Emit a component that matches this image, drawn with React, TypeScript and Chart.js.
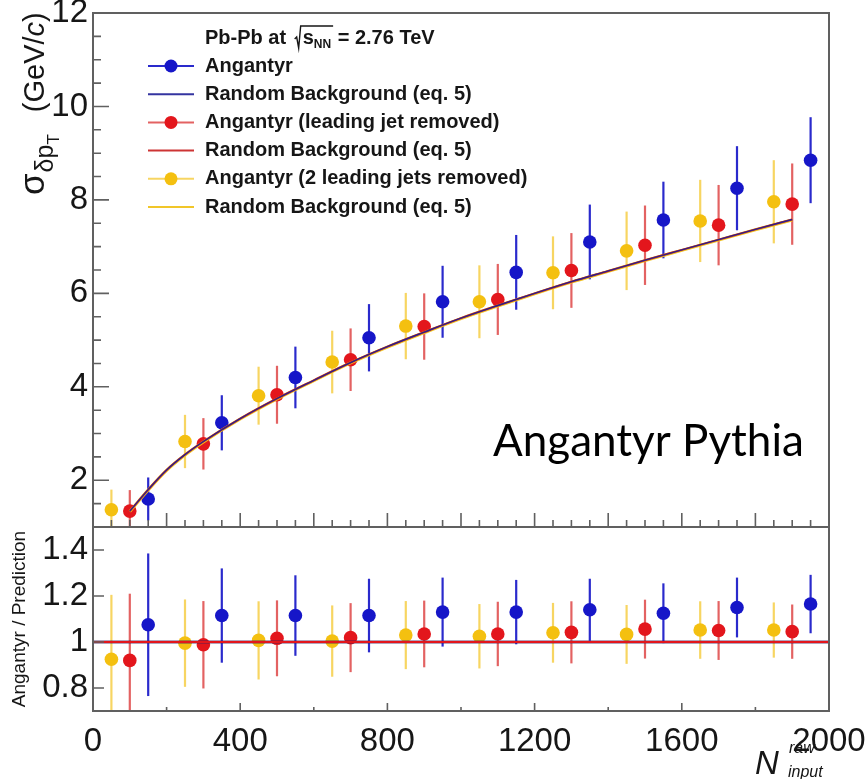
import React, { useEffect, useRef } from 'react';
import { Chart, registerables } from 'chart.js';

Chart.register(...registerables);

// ---------------- data ----------------
const xYellow = [50, 250, 450, 650, 850, 1050, 1250, 1450, 1650, 1850];
const xRed = [100, 300, 500, 700, 900, 1100, 1300, 1500, 1700, 1900];
const xBlue = [150, 350, 550, 750, 950, 1150, 1350, 1550, 1750, 1950];

// upper panel: sigma(delta pT) in GeV/c
const sigmaBlue = [1.6, 3.23, 4.2, 5.05, 5.82, 6.45, 7.1, 7.57, 8.25, 8.85];
const sigmaBlueErr = [0.46, 0.59, 0.66, 0.72, 0.77, 0.8, 0.8, 0.82, 0.9, 0.92];
const sigmaRed = [1.34, 2.78, 3.83, 4.58, 5.29, 5.87, 6.49, 7.03, 7.46, 7.91];
const sigmaRedErr = [0.45, 0.55, 0.62, 0.67, 0.71, 0.76, 0.8, 0.85, 0.86, 0.87];
const sigmaYellow = [1.37, 2.83, 3.81, 4.53, 5.3, 5.82, 6.44, 6.91, 7.55, 7.96];
const sigmaYellowErr = [0.43, 0.57, 0.62, 0.67, 0.71, 0.78, 0.78, 0.84, 0.88, 0.89];

// random background prediction (eq. 5) curves
const bgX = [100, 150, 200, 250, 300, 400, 500, 600, 700, 800, 900, 1000, 1100, 1200, 1300, 1400, 1500, 1600, 1700, 1800, 1900];
const bgBlue = [1.34, 1.8, 2.22, 2.55, 2.83, 3.32, 3.75, 4.14, 4.52, 4.86, 5.17, 5.47, 5.74, 6.0, 6.25, 6.48, 6.71, 6.93, 7.15, 7.37, 7.58];
const bgRed = [1.34, 1.8, 2.22, 2.55, 2.83, 3.32, 3.75, 4.14, 4.52, 4.86, 5.17, 5.47, 5.74, 6.0, 6.25, 6.48, 6.71, 6.93, 7.15, 7.37, 7.58];
const bgYellow = [1.33, 1.79, 2.21, 2.54, 2.82, 3.31, 3.74, 4.13, 4.51, 4.85, 5.16, 5.46, 5.73, 5.99, 6.24, 6.47, 6.7, 6.92, 7.14, 7.36, 7.57];

// lower panel: Angantyr / Prediction
const ratioBlue = [1.075, 1.115, 1.115, 1.115, 1.13, 1.13, 1.14, 1.125, 1.15, 1.165];
const ratioBlueErr = [0.31, 0.205, 0.175, 0.16, 0.15, 0.14, 0.135, 0.13, 0.13, 0.127];
const ratioRed = [0.92, 0.988, 1.016, 1.019, 1.035, 1.035, 1.042, 1.056, 1.05, 1.045];
const ratioRedErr = [0.29, 0.19, 0.165, 0.15, 0.145, 0.14, 0.135, 0.128, 0.128, 0.118];
const ratioYellow = [0.925, 0.995, 1.007, 1.004, 1.03, 1.025, 1.04, 1.033, 1.052, 1.052];
const ratioYellowErr = [0.28, 0.19, 0.17, 0.155, 0.148, 0.14, 0.13, 0.128, 0.125, 0.12];
const unityX = [0, 2000];
const unityY = [1, 1];

// axes / ticks
const topYTicks = [2, 4, 6, 8, 10, 12];
const botYTicks = [0.8, 1.0, 1.2, 1.4];
const xTickLabels = [0, 400, 800, 1200, 1600, 2000];

const labels = {
  header: 'Pb-Pb at',
  energy: '= 2.76 TeV',
  blue: 'Angantyr',
  red: 'Angantyr (leading jet removed)',
  yellow: 'Angantyr (2 leading jets removed)',
  bg: 'Random Background (eq. 5)',
  note: 'Angantyr Pythia',
};

// ---------------- styles ----------------
const FONT = '"Liberation Sans", Arial, Helvetica, sans-serif';
const BLUE = '#1616c8';
const RED = '#e3161c';
const YELLOW = '#f4c010';
const BLUE_ERR = '#2a2acc';
const RED_ERR = 'rgba(222,70,70,0.85)';
const YELLOW_ERR = 'rgba(246,206,70,0.85)';
const FRAME = '#606060';
const TEXT = '#161616';
const LEG = 20;

const pts = (xs: number[], ys: number[]) => xs.map((x, i) => ({ x, y: ys[i] }));
const noPad = () => ({ left: 0, top: 0, right: 0, bottom: 0 });

const errorBarPlugin = {
  id: 'errorBars',
  beforeDatasetDraw(chart: any, args: any) {
    const ds: any = chart.data.datasets[args.index];
    if (!ds.errors) return;
    const xs = chart.scales[args.meta.xAxisID];
    const ys = chart.scales[args.meta.yAxisID];
    const a = chart.chartArea;
    const ctx = chart.ctx;
    ctx.save();
    ctx.beginPath();
    ctx.rect(a.left, a.top, a.right - a.left, a.bottom - a.top);
    ctx.clip();
    ctx.strokeStyle = ds.errorColor;
    ctx.lineWidth = ds.errorWidth || 2;
    ds.data.forEach((p: any, i: number) => {
      const px = xs.getPixelForValue(p.x);
      const y1 = ys.getPixelForValue(p.y - ds.errors[i]);
      const y2 = ys.getPixelForValue(p.y + ds.errors[i]);
      ctx.beginPath();
      ctx.moveTo(px, y1);
      ctx.lineTo(px, y2);
      ctx.stroke();
    });
    ctx.restore();
  },
};

function frameAndTicks(chart: any, cfg: { yMajor: number[]; yMinor: number[]; yMajLen: number; yMinLen: number; xMajor: number[]; xMinor: number[]; xMajLen: number; xMinLen: number }) {
  const ctx = chart.ctx;
  const a = chart.chartArea;
  const xs = chart.scales.x;
  const ys = chart.scales.y;
  ctx.save();
  ctx.strokeStyle = FRAME;
  ctx.lineWidth = 1.6;
  ctx.beginPath();
  cfg.yMajor.forEach((v) => { const y = ys.getPixelForValue(v); ctx.moveTo(a.left, y); ctx.lineTo(a.left + cfg.yMajLen, y); });
  cfg.yMinor.forEach((v) => { const y = ys.getPixelForValue(v); ctx.moveTo(a.left, y); ctx.lineTo(a.left + cfg.yMinLen, y); });
  cfg.xMajor.forEach((v) => { const x = xs.getPixelForValue(v); ctx.moveTo(x, a.bottom); ctx.lineTo(x, a.bottom - cfg.xMajLen); });
  cfg.xMinor.forEach((v) => { const x = xs.getPixelForValue(v); ctx.moveTo(x, a.bottom); ctx.lineTo(x, a.bottom - cfg.xMinLen); });
  ctx.stroke();
  ctx.lineWidth = 2;
  ctx.strokeRect(a.left, a.top, a.right - a.left, a.bottom - a.top);
  ctx.restore();
}

const range = (from: number, to: number, step: number) => {
  const out: number[] = [];
  for (let v = from; v <= to + 1e-9; v += step) out.push(Math.round(v * 1000) / 1000);
  return out;
};

const topDecor = {
  id: 'topDecor',
  afterDraw(chart: any) {
    frameAndTicks(chart, {
      yMajor: topYTicks,
      yMinor: range(1, 12, 0.5).filter((v) => !topYTicks.includes(v)),
      yMajLen: 16,
      yMinLen: 8,
      xMajor: range(0, 2000, 200),
      xMinor: range(0, 2000, 50).filter((v) => v % 200 !== 0),
      xMajLen: 14,
      xMinLen: 7,
    });
    const ctx = chart.ctx;
    ctx.save();
    ctx.fillStyle = TEXT;
    ctx.textBaseline = 'middle';
    ctx.textAlign = 'left';
    // legend header with radical
    const tx = 205;
    let hx = tx;
    const hy = 38;
    ctx.font = `bold ${LEG}px ${FONT}`;
    ctx.fillText(labels.header, hx, hy);
    hx += ctx.measureText(labels.header + ' ').width + 3;
    const sW = ctx.measureText('s').width;
    ctx.font = `bold 12px ${FONT}`;
    const nnW = ctx.measureText('NN').width;
    ctx.strokeStyle = TEXT;
    ctx.lineWidth = 1.4;
    ctx.beginPath();
    ctx.moveTo(hx, hy + 1);
    ctx.lineTo(hx + 2, hy - 1);
    ctx.lineTo(hx + 4, hy + 10);
    ctx.lineTo(hx + 6, hy - 12);
    ctx.lineTo(hx + 8 + sW + nnW + 2, hy - 12);
    ctx.stroke();
    ctx.font = `bold ${LEG}px ${FONT}`;
    ctx.fillText('s', hx + 8, hy);
    ctx.font = `bold 12px ${FONT}`;
    ctx.fillText('NN', hx + 8 + sW, hy + 7);
    ctx.font = `bold ${LEG}px ${FONT}`;
    ctx.fillText(' ' + labels.energy, hx + 8 + sW + nnW + 1, hy);

    // legend entries
    chart.data.datasets.forEach((ds: any, i: number) => {
      const y = 66 + 28.2 * i;
      ctx.lineWidth = 2;
      if (ds.errors) {
        ctx.strokeStyle = ds.errorColor;
        ctx.beginPath(); ctx.moveTo(148, y); ctx.lineTo(194, y); ctx.stroke();
        ctx.fillStyle = ds.backgroundColor;
        ctx.beginPath(); ctx.arc(171, y, 6.5, 0, Math.PI * 2); ctx.fill();
      } else {
        ctx.strokeStyle = ds.borderColor;
        ctx.beginPath(); ctx.moveTo(148, y); ctx.lineTo(194, y); ctx.stroke();
      }
      ctx.fillStyle = TEXT;
      ctx.font = `bold ${LEG}px ${FONT}`;
      ctx.fillText(ds.label, tx, y);
    });

    // annotation
    ctx.textBaseline = 'alphabetic';
    ctx.fillStyle = '#000';
    ctx.font = '44px Lato, "Open Sans", sans-serif';
    ctx.fillText(labels.note, 493, 456);

    // y title: sigma_{delta p_T} (GeV/c)
    ctx.translate(44, 195);
    ctx.rotate(-Math.PI / 2);
    ctx.fillStyle = TEXT;
    let x = 0;
    ctx.font = `35px ${FONT}`;
    ctx.fillText('σ', x, 0); x += ctx.measureText('σ').width + 1;
    ctx.font = `25px ${FONT}`;
    ctx.fillText('δp', x, 9); x += ctx.measureText('δp').width;
    ctx.font = `17px ${FONT}`;
    ctx.fillText('T', x, 15); x += ctx.measureText('T').width + 22;
    ctx.font = `29px ${FONT}`;
    ctx.fillText('(GeV/', x, 0); x += ctx.measureText('(GeV/').width;
    ctx.font = `italic 29px ${FONT}`;
    ctx.fillText('c', x, 0); x += ctx.measureText('c').width;
    ctx.font = `29px ${FONT}`;
    ctx.fillText(')', x, 0);
    ctx.restore();
  },
};

const botDecor = {
  id: 'botDecor',
  afterDraw(chart: any) {
    frameAndTicks(chart, {
      yMajor: botYTicks,
      yMinor: [],
      yMajLen: 11,
      yMinLen: 5,
      xMajor: xTickLabels,
      xMinor: range(200, 1800, 400),
      xMajLen: 8,
      xMinLen: 4,
    });
    const ctx = chart.ctx;
    const a = chart.chartArea;
    ctx.save();
    ctx.fillStyle = TEXT;
    ctx.textAlign = 'center';
    ctx.textBaseline = 'alphabetic';
    ctx.translate(25, (a.top + a.bottom) / 2);
    ctx.rotate(-Math.PI / 2);
    ctx.font = `19px ${FONT}`;
    ctx.fillText('Angantyr / Prediction', 0, 0);
    ctx.restore();
    ctx.save();
    ctx.fillStyle = TEXT;
    ctx.textAlign = 'left';
    ctx.textBaseline = 'alphabetic';
    ctx.font = `italic 33px ${FONT}`;
    ctx.fillText('N', 755, 247);
    ctx.font = `italic 16px ${FONT}`;
    ctx.fillText('raw', 789, 226);
    ctx.fillText('input', 788, 250);
    ctx.restore();
  },
};

const tickFont = { family: FONT, size: 33, lineHeight: 1 };

function yAxis(min: number, max: number, ticks: number[]) {
  return {
    type: 'linear' as const,
    min,
    max,
    grid: { display: false, drawTicks: false },
    border: { display: false },
    ticks: {
      font: tickFont,
      color: TEXT,
      padding: 5,
      autoSkip: false,
      callback: (v: any) => String(Number(Number(v).toFixed(2))),
    },
    afterBuildTicks(s: any) { s.ticks = ticks.map((value) => ({ value })); },
    afterFit(s: any) {
      s.width = 93;
      s.paddingTop = 0; s.paddingBottom = 0; s.paddingLeft = 0; s.paddingRight = 0;
      s.getPadding = noPad;
    },
  };
}

function markerSet(label: string, xs: number[], ys: number[], errs: number[], color: string, errColor: string, order: number) {
  return {
    label,
    data: pts(xs, ys),
    backgroundColor: color,
    borderColor: color,
    borderWidth: 0,
    pointRadius: 6.8,
    pointHoverRadius: 6.8,
    showLine: false,
    errors: errs,
    errorColor: errColor,
    errorWidth: 2.2,
    order,
  } as any;
}

function lineSet(label: string, xs: number[], ys: number[], color: string, width: number, order: number) {
  return {
    type: 'line',
    label,
    data: pts(xs, ys),
    borderColor: color,
    backgroundColor: color,
    borderWidth: width,
    pointRadius: 0,
    showLine: true,
    fill: false,
    cubicInterpolationMode: 'monotone',
    order,
  } as any;
}

export default function App() {
  const topRef = useRef<HTMLCanvasElement>(null);
  const botRef = useRef<HTMLCanvasElement>(null);

  useEffect(() => {
    const top = new Chart(topRef.current as HTMLCanvasElement, {
      type: 'scatter',
      data: {
        datasets: [
          markerSet(labels.blue, xBlue, sigmaBlue, sigmaBlueErr, BLUE, BLUE_ERR, 6),
          lineSet(labels.bg, bgX, bgBlue, 'rgba(30,30,150,0.9)', 1.4, 1),
          markerSet(labels.red, xRed, sigmaRed, sigmaRedErr, RED, RED_ERR, 5),
          lineSet(labels.bg, bgX, bgRed, 'rgba(200,30,30,0.9)', 2, 2),
          markerSet(labels.yellow, xYellow, sigmaYellow, sigmaYellowErr, YELLOW, YELLOW_ERR, 4),
          lineSet(labels.bg, bgX, bgYellow, 'rgba(240,195,30,0.95)', 3, 3),
        ],
      },
      options: {
        animation: false,
        responsive: false,
        events: [],
        layout: { autoPadding: false, padding: { top: 13, bottom: 1, left: 0, right: 36 } },
        plugins: { legend: { display: false }, tooltip: { enabled: false } },
        scales: {
          x: {
            type: 'linear', min: 0, max: 2000, display: false,
            afterFit(s: any) { s.height = 0; s.paddingLeft = 0; s.paddingRight = 0; s.getPadding = noPad; },
          },
          y: yAxis(1, 12, topYTicks),
        },
      } as any,
      plugins: [errorBarPlugin, topDecor],
    });

    const bot = new Chart(botRef.current as HTMLCanvasElement, {
      type: 'scatter',
      data: {
        datasets: [
          markerSet(labels.blue, xBlue, ratioBlue, ratioBlueErr, BLUE, BLUE_ERR, 6),
          markerSet(labels.red, xRed, ratioRed, ratioRedErr, RED, RED_ERR, 5),
          markerSet(labels.yellow, xYellow, ratioYellow, ratioYellowErr, YELLOW, YELLOW_ERR, 4),
          lineSet(labels.bg, unityX, unityY, 'rgba(240,195,30,0.9)', 1.5, 3),
          lineSet(labels.bg, unityX, unityY, 'rgba(60,30,90,0.8)', 3.2, 2),
          lineSet(labels.bg, unityX, unityY, RED, 1.8, 1),
        ],
      },
      options: {
        animation: false,
        responsive: false,
        events: [],
        layout: { autoPadding: false, padding: { top: 0, bottom: 0, left: 0, right: 36 } },
        plugins: { legend: { display: false }, tooltip: { enabled: false } },
        scales: {
          x: {
            type: 'linear',
            min: 0,
            max: 2000,
            grid: { display: false, drawTicks: false },
            border: { display: false },
            ticks: { font: tickFont, color: TEXT, padding: 14, autoSkip: false, maxRotation: 0, callback: (v: any) => String(v) },
            afterBuildTicks(s: any) { s.ticks = xTickLabels.map((value) => ({ value })); },
            afterFit(s: any) { s.height = 68; s.paddingLeft = 0; s.paddingRight = 0; s.paddingTop = 0; s.paddingBottom = 0; s.getPadding = noPad; },
          },
          y: yAxis(0.7, 1.5, botYTicks),
        },
      } as any,
      plugins: [errorBarPlugin, botDecor],
    });

    return () => {
      top.destroy();
      bot.destroy();
    };
  }, []);

  return (
    <div style={{ position: 'absolute', left: 0, top: 0, width: 865, height: 779, background: '#fff', overflow: 'hidden' }}>
      <canvas ref={topRef} width={865} height={528} style={{ position: 'absolute', left: 0, top: 0 }} />
      <canvas ref={botRef} width={865} height={252} style={{ position: 'absolute', left: 0, top: 527 }} />
    </div>
  );
}
